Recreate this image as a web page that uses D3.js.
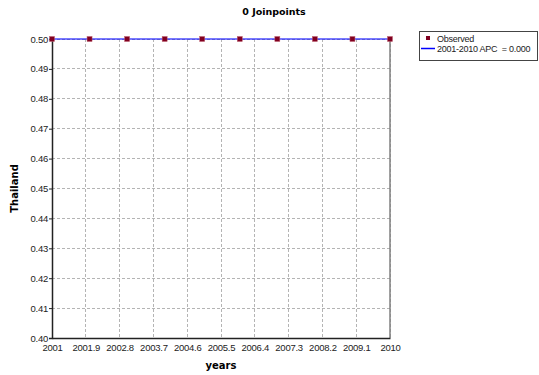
<!DOCTYPE html>
<html><head><meta charset="utf-8">
<script src="https://cdn.jsdelivr.net/npm/d3@7"></script>
<style>body{margin:0;background:#fff}svg{display:block}text{white-space:pre}</style>
</head><body>
<script>
const years = [2001,2002,2003,2004,2005,2006,2007,2008,2009,2010];
const observed = [0.5,0.5,0.5,0.5,0.5,0.5,0.5,0.5,0.5,0.5];
const fitYears = [2001,2010];
const fitValues = [0.5,0.5];
const xTicks = [2001,2001.9,2002.8,2003.7,2004.6,2005.5,2006.4,2007.3,2008.2,2009.1,2010];
const yTicks = [0.40,0.41,0.42,0.43,0.44,0.45,0.46,0.47,0.48,0.49,0.50];
const title = "0 Joinpoints", xLabel = "years", yLabel = "Thailand";
const legendLabels = ["Observed","2001-2010 APC  = 0.000"];

const W=539,H=375, L=52,R=390,T=39,B=338;
const svg=d3.select("body").append("svg").attr("width",W).attr("height",H);
const x=d3.scaleLinear().domain([2001,2010]).range([L,R]);
const y=d3.scaleLinear().domain([0.40,0.50]).range([B,T]);
const font="'Liberation Sans',Arial,sans-serif";

// grid
svg.append("g").selectAll("line").data(xTicks.slice(1)).join("line")
  .attr("x1",d=>x(d)).attr("x2",d=>x(d)).attr("y1",T).attr("y2",B)
  .attr("stroke","#b4b4b4").attr("stroke-dasharray","3,2").attr("stroke-width",1).attr("shape-rendering","crispEdges");
svg.append("g").selectAll("line").data(yTicks.slice(1)).join("line")
  .attr("x1",L).attr("x2",R).attr("y1",d=>y(d)).attr("y2",d=>y(d))
  .attr("stroke","#b4b4b4").attr("stroke-dasharray","3,2").attr("stroke-width",1).attr("shape-rendering","crispEdges");
// right border
svg.append("line").attr("x1",R).attr("x2",R).attr("y1",T).attr("y2",B).attr("stroke","#808080").attr("stroke-width",1.5);

// axes
const yAxis=d3.axisLeft(y).tickValues(yTicks).tickFormat(d3.format(".2f")).tickSize(3).tickPadding(1);
const gy=svg.append("g").attr("transform",`translate(${L},0)`).call(yAxis);
const xAxis=d3.axisBottom(x).tickValues(xTicks).tickFormat(d=>String(+d.toFixed(1))).tickSize(0).tickPadding(6);
const gx=svg.append("g").attr("transform",`translate(0,${B})`).call(xAxis);
[gx,gy].forEach(g=>{g.selectAll("text").attr("font-family",font).attr("font-size",9.5).attr("letter-spacing",-0.25).attr("fill","#222");
  g.select(".domain").attr("stroke","#222").attr("stroke-width",1.5);
  g.selectAll(".tick line").attr("stroke","#222");});

// fit line
svg.append("path").datum(fitYears.map((d,i)=>[d,fitValues[i]]))
  .attr("d",d3.line().x(d=>x(d[0])).y(d=>y(d[1])))
  .attr("stroke","#0000ff").attr("stroke-width",1.5).attr("fill","none").attr("opacity",0.7);
// markers
svg.append("g").selectAll("rect").data(years).join("rect")
  .attr("x",d=>x(d)-2.5).attr("y",(d,i)=>y(observed[i])-2.5).attr("width",5).attr("height",5)
  .attr("fill","#800020").attr("stroke","#c06070").attr("stroke-width",0.5);

// titles
svg.append("text").attr("x",274).attr("y",15).attr("text-anchor","middle")
  .attr("font-family","'DejaVu Sans',Verdana,sans-serif").attr("font-weight","bold").attr("font-size",9.5).text(title);
svg.append("text").attr("x",(L+R)/2).attr("y",369).attr("text-anchor","middle")
  .attr("font-family","'DejaVu Sans',Verdana,sans-serif").attr("font-weight","bold").attr("font-size",10).text(xLabel);
svg.append("text").attr("transform",`translate(18,${(T+B)/2}) rotate(-90)`).attr("text-anchor","middle")
  .attr("font-family","'DejaVu Sans',Verdana,sans-serif").attr("font-weight","bold").attr("font-size",10).text(yLabel);

// legend
const lg=svg.append("g");
lg.append("rect").attr("x",419.5).attr("y",31.5).attr("width",118).attr("height",29).attr("fill","#fff").attr("stroke","#444");
lg.append("rect").attr("x",426).attr("y",36).attr("width",4).attr("height",4).attr("fill","#800020");
lg.append("line").attr("x1",421).attr("x2",435).attr("y1",48.5).attr("y2",48.5).attr("stroke","#0000ff").attr("stroke-width",1.5);
lg.selectAll("text").data(legendLabels).join("text").attr("x",437).attr("y",(d,i)=>42+i*10)
  .attr("font-family",font).attr("font-size",9).attr("letter-spacing",-0.25).attr("fill","#222").text(d=>d);
</script>
</body></html>
